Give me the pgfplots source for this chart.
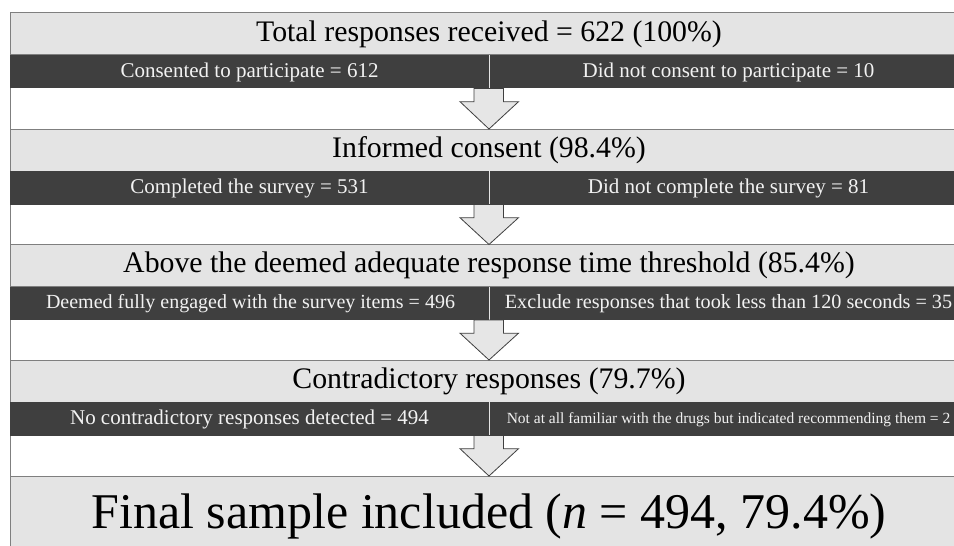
\documentclass[border=0pt]{standalone}
\usepackage{pgfplots}
\pgfplotsset{compat=1.18}
\usepackage{fontspec}
\setmainfont{Liberation Serif}
\definecolor{hdr}{HTML}{E4E4E4}
\definecolor{band}{HTML}{3F3F3F}
\definecolor{edge}{HTML}{7F7F7F}
\definecolor{arrowfill}{HTML}{E6E6E6}
\definecolor{bandtext}{HTML}{F2F2F2}
\begin{document}
\begin{tikzpicture}
\begin{axis}[scale only axis, width=954bp, height=546bp,
  xmin=0, xmax=954, ymin=0, ymax=546, y dir=reverse,
  hide axis, clip=true]
% outer frame (white)
\addplot[draw=edge, fill=white, line width=1bp] coordinates {(10.5,13) (990,13) (990,560) (10.5,560)} -- cycle;
% header boxes
\addplot[draw=edge, fill=hdr, line width=1bp] coordinates {(10.5,13) (990,13) (990,55) (10.5,55)} -- cycle;
\addplot[draw=edge, fill=hdr, line width=1bp] coordinates {(10.5,129) (990,129) (990,171) (10.5,171)} -- cycle;
\addplot[draw=edge, fill=hdr, line width=1bp] coordinates {(10.5,244.5) (990,244.5) (990,286.5) (10.5,286.5)} -- cycle;
\addplot[draw=edge, fill=hdr, line width=1bp] coordinates {(10.5,360) (990,360) (990,402) (10.5,402)} -- cycle;
\addplot[draw=edge, fill=hdr, line width=1bp] coordinates {(10.5,476) (990,476) (990,560) (10.5,560)} -- cycle;
% dark bands
\addplot[draw=none, fill=band] coordinates {(10,55) (990,55) (990,88.5) (10,88.5)} -- cycle;
\addplot[draw=none, fill=band] coordinates {(10,171) (990,171) (990,204.5) (10,204.5)} -- cycle;
\addplot[draw=none, fill=band] coordinates {(10,286.5) (990,286.5) (990,320) (10,320)} -- cycle;
\addplot[draw=none, fill=band] coordinates {(10,402) (990,402) (990,435.5) (10,435.5)} -- cycle;
% dividers
\addplot[draw=hdr, line width=1bp] coordinates {(489,55) (489,88.5)};
\addplot[draw=hdr, line width=1bp] coordinates {(489,171) (489,204.5)};
\addplot[draw=hdr, line width=1bp] coordinates {(489,286.5) (489,320)};
\addplot[draw=hdr, line width=1bp] coordinates {(489,402) (489,435.5)};
% arrows
\addplot[draw=band, fill=arrowfill, line width=0.8bp] coordinates {(474,88.5) (503.5,88.5) (503.5,101.7) (518.5,101.7) (489,129) (460,101.7) (474,101.7)} -- cycle;
\addplot[draw=band, fill=arrowfill, line width=0.8bp] coordinates {(474,204.5) (503.5,204.5) (503.5,217.7) (518.5,217.7) (489,244.5) (460,217.7) (474,217.7)} -- cycle;
\addplot[draw=band, fill=arrowfill, line width=0.8bp] coordinates {(474,320) (503.5,320) (503.5,333.2) (518.5,333.2) (489,360) (460,333.2) (474,333.2)} -- cycle;
\addplot[draw=band, fill=arrowfill, line width=0.8bp] coordinates {(474,435.5) (503.5,435.5) (503.5,448.7) (518.5,448.7) (489,476) (460,448.7) (474,448.7)} -- cycle;
% header texts
\node[anchor=base, font=\fontsize{29.8bp}{31bp}\selectfont] at (axis cs:489,41.3) {Total responses received = 622 (100\%)};
\node[anchor=base, font=\fontsize{29.8bp}{31bp}\selectfont] at (axis cs:489,157.3) {Informed consent (98.4\%)};
\node[anchor=base, font=\fontsize{29.8bp}{31bp}\selectfont] at (axis cs:489,272.8) {Above the deemed adequate response time threshold (85.4\%)};
\node[anchor=base, font=\fontsize{29.8bp}{31bp}\selectfont] at (axis cs:489,388.3) {Contradictory responses (79.7\%)};
% band texts
\node[anchor=base, text=bandtext, font=\fontsize{21bp}{23bp}\selectfont] at (axis cs:249.5,77.3) {Consented to participate = 612};
\node[anchor=base, text=bandtext, font=\fontsize{21bp}{23bp}\selectfont] at (axis cs:728.5,77.3) {Did not consent to participate = 10};
\node[anchor=base, text=bandtext, font=\fontsize{21bp}{23bp}\selectfont] at (axis cs:249.5,193.3) {Completed the survey = 531};
\node[anchor=base, text=bandtext, font=\fontsize{21bp}{23bp}\selectfont] at (axis cs:728.5,193.3) {Did not complete the survey = 81};
\node[anchor=base, text=bandtext, font=\fontsize{20bp}{22bp}\selectfont] at (axis cs:250.5,308.8) {Deemed fully engaged with the survey items = 496};
\node[anchor=base, text=bandtext, font=\fontsize{20.2bp}{22bp}\selectfont] at (axis cs:728.5,308.8) {Exclude responses that took less than 120 seconds = 35};
\node[anchor=base, text=bandtext, font=\fontsize{21bp}{23bp}\selectfont] at (axis cs:249.5,424.3) {No contradictory responses detected = 494};
\node[anchor=base, text=bandtext, font=\fontsize{15.5bp}{17bp}\selectfont] at (axis cs:728.5,423.8) {Not at all familiar with the drugs but indicated recommending them = 2};
% final
\node[anchor=base, font=\fontsize{50bp}{52bp}\selectfont] at (axis cs:489,528.3) {Final sample included (\textit{n} = 494, 79.4\%)};
\end{axis}
\pgfresetboundingbox
\useasboundingbox (current axis.south west) rectangle (current axis.north east);
\end{tikzpicture}
\end{document}
